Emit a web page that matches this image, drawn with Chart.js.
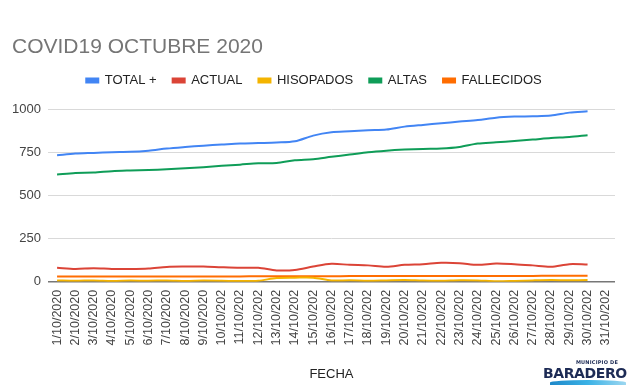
<!DOCTYPE html>
<html>
<head>
<meta charset="utf-8">
<script src="https://cdn.jsdelivr.net/npm/chart.js@4/dist/chart.umd.min.js"></script>
<style>
  html, body { margin: 0; padding: 0; background: #fff; }
  #wrap { position: relative; width: 635px; height: 385px; }
  #logo { position: absolute; left: 540px; top: 359px; width: 90px; height: 26px; font-family: "DejaVu Sans", sans-serif; }
  #logo .mun { position: absolute; right: 12px; top: 0; font-size: 5px; font-weight: bold; color: #1d2b55; letter-spacing: 0.2px; }
  #logo .bar { position: absolute; left: 3px; top: 6px; font-size: 14px; font-weight: bold; color: #1d2b55; letter-spacing: -0.4px; }
  #logo .wave { position: absolute; left: 10px; top: 21px; width: 76px; height: 5px; border-radius: 50% 50% 0 0; background: linear-gradient(90deg, #1e88c9, #3bb2e6, #9dd7f0); }
</style>
</head>
<body>
<div id="wrap">
  <canvas id="myChart" width="635" height="385"></canvas>
  <div id="logo"><span class="mun">MUNICIPIO DE</span><span class="bar">BARADERO</span><div class="wave"></div></div>
</div>
<script>
// fechas (tick labels are cut short like in the original sheet)
const fechas = ['1/10/2020', '2/10/2020', '3/10/2020', '4/10/2020', '5/10/2020', '6/10/2020', '7/10/2020',
  '8/10/2020', '9/10/2020', '10/10/202', '11/10/202', '12/10/202', '13/10/202', '14/10/202', '15/10/202',
  '16/10/202', '17/10/202', '18/10/202', '19/10/202', '20/10/202', '21/10/202', '22/10/202', '23/10/202',
  '24/10/202', '25/10/202', '26/10/202', '27/10/202', '28/10/202', '29/10/202', '30/10/202', '31/10/202'];

const total = [732, 742, 746, 750, 752, 759, 771, 780, 788, 794, 800, 803, 806, 813, 846,
  865, 871, 877, 881, 898, 908, 917, 927, 936, 950, 956, 958, 962, 979, 987, null];
const actual = [81, 74, 79, 74, 74, 77, 86, 88, 88, 84, 81, 81, 66, 68, 88,
  104, 98, 95, 87, 98, 102, 110, 108, 98, 106, 102, 95, 87, 102, 100, null];
const hisopados = [8, 6, 8, 5, 7, 6, 8, 5, 7, 6, 4, 6, 22, 24, 24,
  8, 9, 6, 8, 10, 7, 6, 9, 8, 3, 5, 8, 10, 9, 10, null];
const altas = [621, 630, 632, 640, 644, 647, 651, 657, 663, 671, 678, 686, 688, 703, 709,
  723, 736, 750, 759, 765, 769, 771, 780, 800, 807, 815, 823, 832, 838, 848, null];
const fallecidos = [30, 30, 30, 30, 31, 31, 31, 31, 31, 31, 31, 32, 32, 32, 32,
  32, 33, 33, 33, 33, 33, 33, 34, 34, 34, 34, 34, 35, 35, 35, null];

const yTicks = [0, 250, 500, 750, 1000];

function serie(label, data, color) {
  return {
    label: label,
    data: data,
    borderColor: color,
    backgroundColor: color,
    borderWidth: 2,
    pointRadius: 0,
    tension: 0.3,
    fill: false
  };
}

// extra space under the legend + nudge title/legend to the right
const legendGap = {
  id: 'legendGap',
  beforeInit(chart) {
    const fit = chart.legend.fit;
    chart.legend.fit = function () {
      fit.bind(chart.legend)();
      this.height += 12;
    };
  },
  afterLayout(chart) {
    chart.titleBlock.left = 12;
    chart.legend.left += 4;
    chart.legend.right += 4;
  }
};

const ctx = document.getElementById('myChart').getContext('2d');
const myChart = new Chart(ctx, {
  type: 'line',
  data: {
    labels: fechas,
    datasets: [
      serie('TOTAL +', total, '#4285f4'),
      serie('ACTUAL', actual, '#db4437'),
      serie('HISOPADOS', hisopados, '#f4b400'),
      serie('ALTAS', altas, '#0f9d58'),
      serie('FALLECIDOS', fallecidos, '#ff6d01')
    ]
  },
  plugins: [legendGap],
  options: {
    responsive: false,
    animation: false,
    layout: { padding: { left: 5, right: 20, top: 0, bottom: 2 } },
    plugins: {
      title: {
        display: true,
        text: 'COVID19 OCTUBRE 2020',
        align: 'start',
        color: '#757575',
        font: { family: 'Liberation Sans, Arial, sans-serif', size: 21, weight: 'normal', lineHeight: 1.0 },
        padding: { top: 37, bottom: 0 }
      },
      legend: {
        position: 'top',
        labels: {
          boxWidth: 12,
          boxHeight: 4,
          padding: 16,
          color: '#222',
          font: { family: 'Liberation Sans, Arial, sans-serif', size: 13 }
        }
      },
      tooltip: { enabled: false }
    },
    scales: {
      x: {
        offset: true,
        grid: { display: false },
        border: { display: false },
        ticks: {
          autoSkip: false,
          minRotation: 90,
          maxRotation: 90,
          color: '#444',
          padding: 0,
          font: { family: 'Liberation Sans, Arial, sans-serif', size: 12.5 }
        },
        title: {
          display: true,
          text: 'FECHA',
          color: '#222',
          padding: { top: 21, bottom: 1 },
          font: { family: 'Liberation Sans, Arial, sans-serif', size: 13 }
        }
      },
      y: {
        min: 0,
        max: 1000,
        afterBuildTicks: function (axis) {
          axis.ticks = yTicks.map(function (v) { return { value: v }; });
        },
        border: { display: false },
        grid: {
          color: function (c) { return c.tick && c.tick.value === 0 ? '#777' : '#d9d9d9'; },
          lineWidth: function (c) { return c.tick && c.tick.value === 0 ? 1.5 : 1; },
          drawTicks: false
        },
        ticks: {
          color: '#444',
          padding: 7,
          font: { family: 'Liberation Sans, Arial, sans-serif', size: 13 },
          callback: function (v) { return String(v); }
        }
      }
    }
  }
});
</script>
</body>
</html>
